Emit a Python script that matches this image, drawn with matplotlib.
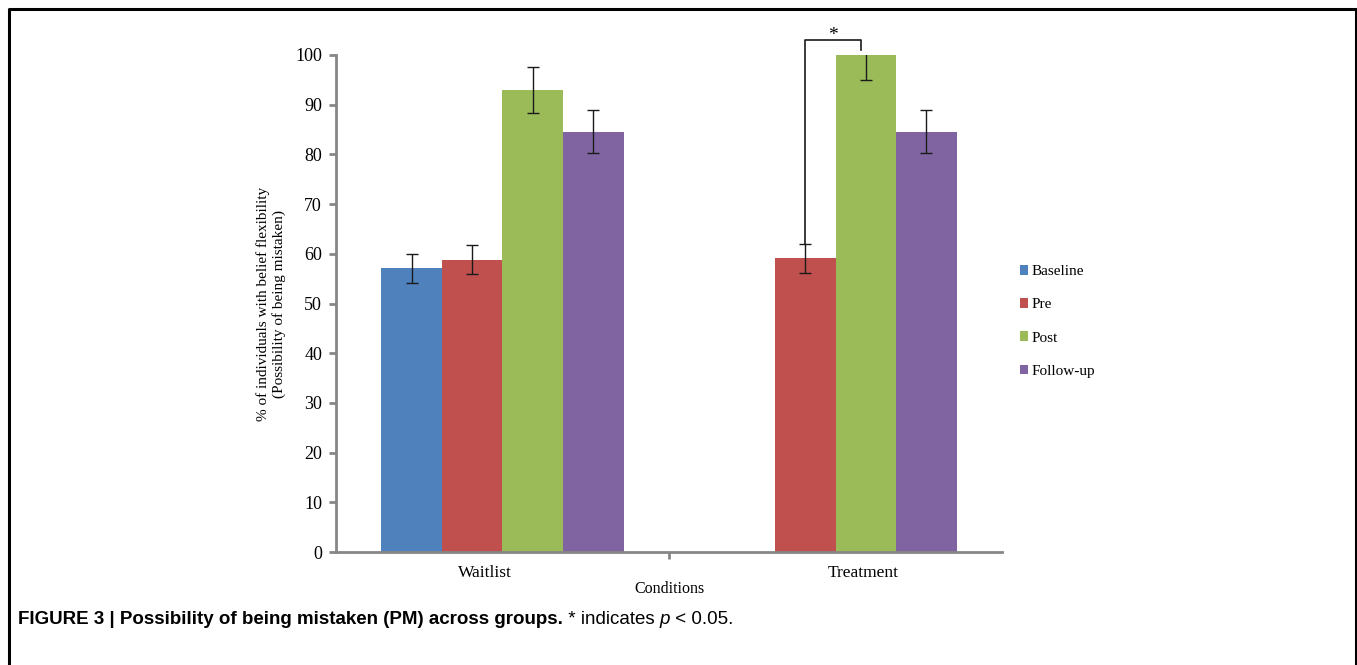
import matplotlib
matplotlib.use("Agg")
import matplotlib.pyplot as plt
from matplotlib.lines import Line2D
import numpy as np

plt.rcParams['font.family'] = ['Liberation Serif', 'DejaVu Serif']

# data
conditions = ["Waitlist", "Treatment"]
phases = ["Baseline", "Pre", "Post", "Follow-up"]
colors = ["#4f81bd", "#c0504d", "#9bbb59", "#8064a2"]
values = {
    "Baseline": [57.1, np.nan],
    "Pre": [58.8, 59.1],
    "Post": [92.9, 100.0],
    "Follow-up": [84.6, 84.6],
}
errors = {
    "Baseline": [2.9, np.nan],
    "Pre": [2.9, 2.9],
    "Post": [4.6, 5.0],
    "Follow-up": [4.3, 4.3],
}

fig = plt.figure(figsize=(13.57, 6.65), dpi=100)
ax = fig.add_axes([0.2476, 0.1699, 0.4908, 0.7474])

w = 1 / 5.5  # excel-like 150% gap width
x = np.arange(len(conditions))
for j, ph in enumerate(phases):
    pos = x + (j - 1.5) * w
    ax.bar(pos, values[ph], w, color=colors[j], label=ph, zorder=2)
    ax.errorbar(pos, values[ph], yerr=errors[ph], fmt='none', ecolor='#1a1a1a',
                elinewidth=1, capsize=4, capthick=1, zorder=3)

ax.set_xlim(-0.5, 1.5)
ax.set_ylim(0, 100)
ax.set_yticks(range(0, 101, 10))
# category labels sit a little off the group centres, as in the original
ax.set_xticks(x + np.array([-0.053, 0.083]))
ax.set_xticklabels(conditions, fontsize=12.5)
ax.set_xticks([0.5], minor=True)
ax.tick_params(axis='x', which='major', length=0, pad=9)
ax.tick_params(axis='x', which='minor', length=5, width=2, color='#868686')
ax.tick_params(axis='y', length=5, width=2, color='#868686', labelsize=13, pad=5)
for s in ['top', 'right']:
    ax.spines[s].set_visible(False)
for s in ['left', 'bottom']:
    ax.spines[s].set_color('#868686')
    ax.spines[s].set_linewidth(2)

ax.set_xlabel("Conditions", fontsize=11.5, labelpad=0)
ax.set_ylabel("% of individuals with belief flexibility\n(Possibility of being mistaken)",
              fontsize=11, labelpad=7, linespacing=1.15)

# significance bracket between Treatment Pre and Post
x_pre = 1 + (1 - 1.5) * w
x_post = 1 + (2 - 1.5) * w
bx = [x_pre, x_pre, x_post - 0.08 * w, x_post - 0.08 * w]
by = [62.0, 103.0, 103.0, 101.0]
ax.plot(bx, by, color='#1a1a1a', lw=1.2, clip_on=False)
ax.text((bx[0] + bx[2]) / 2, 102.2, "*", ha='center', va='bottom', fontsize=14)

ax.legend(loc='center left', bbox_to_anchor=(1.006, 0.464), frameon=False,
          fontsize=11, handlelength=0.55, handleheight=0.6, handletextpad=0.2,
          labelspacing=1.31)

# caption
cfam = ['Liberation Sans', 'DejaVu Sans']
cap = fig.text(0.0133, 0.062, "FIGURE 3 | Possibility of being mistaken (PM) across groups.",
               family=cfam, fontweight='bold', fontsize=13.5, va='baseline')
t2 = ax.annotate(" * indicates ", xy=(1, 0), xycoords=cap, va='bottom',
                 family=cfam, fontsize=13.5, annotation_clip=False)
t3 = ax.annotate("p", xy=(1, 0), xycoords=t2, va='bottom', style='italic',
                 family=cfam, fontsize=13.5, annotation_clip=False)
ax.annotate(" < 0.05.", xy=(1, 0), xycoords=t3, va='bottom',
            family=cfam, fontsize=13.5, annotation_clip=False)

# frame around the figure panel
fx0, fx1, fy1 = 9 / 1357, 1355.5 / 1357, 1 - 9 / 665
fig.add_artist(Line2D([fx0, fx0, fx1, fx1], [0, fy1, fy1, 0], color='k', lw=2.2,
                      transform=fig.transFigure))

fig.savefig("out.png", dpi=100)
